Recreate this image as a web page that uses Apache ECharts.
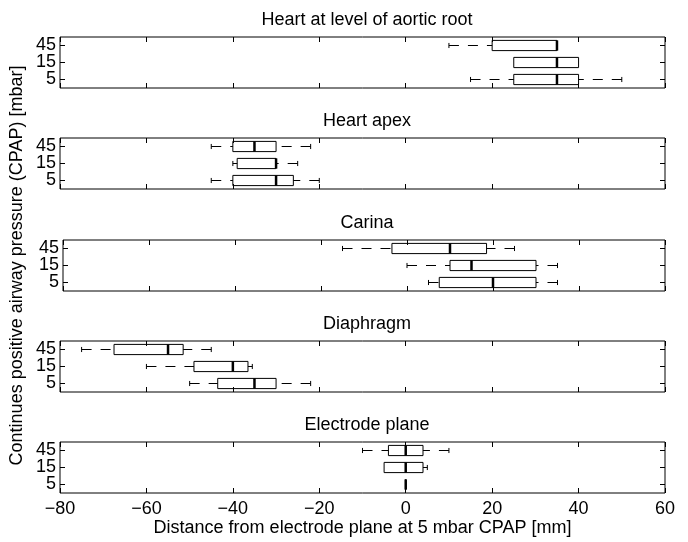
<!DOCTYPE html>
<html>
<head>
<meta charset="utf-8">
<title>CPAP boxplots</title>
<script src="https://cdn.jsdelivr.net/npm/echarts@6/dist/echarts.min.js"></script>
<style>
  html, body { margin: 0; padding: 0; background: #fff; }
  #main { width: 688px; height: 542px; }
</style>
</head>
<body>
<div id="main"></div>
<script>
// CPAP levels (bottom to top on each panel)
var pressures = ['5', '15', '45'];
var panelTitles = ['Heart at level of aortic root', 'Heart apex', 'Carina', 'Diaphragm', 'Electrode plane'];
var xTicks = [-80, -60, -40, -20, 0, 20, 40, 60];

// [min, q1, median, q3, max] for 5, 15, 45 mbar
var aorticRoot = [[15, 25, 35, 40, 50], [25, 25, 35, 40, 40], [10, 20, 35, 35, 35]];
var heartApex  = [[-45, -40, -30, -26, -20], [-40, -39, -30, -30, -25], [-45, -40, -35, -30, -22]];
var carina     = [[5, 7.5, 20, 30, 35], [0, 10, 15, 30, 35], [-15, -3.5, 10, 18.5, 25]];
var diaphragm  = [[-50, -43.5, -35, -30, -22], [-60, -49, -40, -36.5, -35.5], [-75, -67.5, -55, -51.5, -45]];
var electrode  = [[0, 0, 0, 0, 0], [-5, -5, 0, 4, 5], [-10, -4, 0, 4, 10]];

var panels = [aorticRoot, heartApex, carina, diaphragm, electrode];
var gridTops = [37, 138, 240, 341, 442];
var font = '"Liberation Sans", Arial, sans-serif';
var fs = 18;

const myChart = echarts.init(document.getElementById('main'));

function renderBox(params, api) {
    var y = api.value(0);
    var lo = api.coord([api.value(1), y]);
    var q1 = api.coord([api.value(2), y]);
    var md = api.coord([api.value(3), y]);
    var q3 = api.coord([api.value(4), y]);
    var hi = api.coord([api.value(5), y]);
    var h = api.size([0, 1])[1] * 0.6;
    var cy = lo[1];
    var dash = { stroke: '#000', lineWidth: 1, lineDash: [10, 9] };
    var solid = { stroke: '#000', lineWidth: 1 };
    var kids = [];
    if (hi[0] - q3[0] > 1) {
        kids.push({ type: 'line', shape: { x1: hi[0], y1: cy, x2: q3[0], y2: cy }, style: dash });
        kids.push({ type: 'line', shape: { x1: hi[0], y1: cy - h / 4, x2: hi[0], y2: cy + h / 4 }, style: solid });
    }
    if (q1[0] - lo[0] > 1) {
        kids.push({ type: 'line', shape: { x1: lo[0], y1: cy, x2: q1[0], y2: cy }, style: dash });
        kids.push({ type: 'line', shape: { x1: lo[0], y1: cy - h / 4, x2: lo[0], y2: cy + h / 4 }, style: solid });
    }
    kids.push({ type: 'rect', shape: { x: q1[0], y: cy - h / 2, width: q3[0] - q1[0], height: h },
        style: { fill: 'none', stroke: '#000', lineWidth: 1 } });
    kids.push({ type: 'line', shape: { x1: md[0], y1: cy - h / 2, x2: md[0], y2: cy + h / 2 },
        style: { stroke: '#000', lineWidth: 2.5 } });
    return { type: 'group', children: kids };
}

var grids = [], xAxes = [], yAxes = [], titles = [], series = [];
panels.forEach(function (rows, i) {
    var last = i === panels.length - 1;
    grids.push({ left: 60, width: 605, top: gridTops[i], height: 51, show: true,
        borderColor: '#000', borderWidth: 1, backgroundColor: '#fff' });
    titles.push({ text: panelTitles[i], left: 362, top: gridTops[i] - 31, textAlign: 'center',
        textStyle: { fontFamily: font, fontSize: fs, fontWeight: 'normal', color: '#000' } });
    ['bottom', 'top'].forEach(function (pos) {
        xAxes.push({
            type: 'value', gridIndex: i, position: pos, min: -80, max: 60, interval: 20,
            axisLine: { show: false, onZero: false },
            axisTick: { show: true, inside: true, length: 5, lineStyle: { color: '#000' } },
            splitLine: { show: false },
            axisLabel: {
                show: last && pos === 'bottom', margin: 7, color: '#000', fontFamily: font, fontSize: fs,
                formatter: function (v) { return v < 0 ? '\u2212' + (-v) : String(v); }
            },
            name: last && pos === 'bottom' ? 'Distance from electrode plane at 5 mbar CPAP [mm]' : '',
            nameLocation: 'middle', nameGap: 25,
            nameTextStyle: { color: '#000', fontFamily: font, fontSize: fs }
        });
    });
    ['left', 'right'].forEach(function (pos) {
        var left = pos === 'left';
        yAxes.push({
            type: 'category', gridIndex: i, position: pos, data: pressures,
            axisLine: { show: false, onZero: false },
            axisTick: { show: true, inside: true, length: 5, interval: 0, alignWithLabel: true,
                lineStyle: { color: '#000' } },
            axisLabel: { show: true, interval: 0, margin: left ? 4 : 1, fontFamily: font,
                fontSize: left ? fs : 5,
                color: left ? '#000' : 'rgba(0,0,0,0)' },
            name: i === 2 && left ? 'Continues positive airway pressure (CPAP) [mbar]' : '',
            nameLocation: 'middle', nameGap: 37,
            nameTextStyle: { color: '#000', fontFamily: font, fontSize: fs }
        });
    });
    series.push({
        type: 'custom', xAxisIndex: i * 2, yAxisIndex: i * 2,
        renderItem: renderBox,
        encode: { x: [1, 2, 3, 4, 5], y: 0 },
        data: rows.map(function (r, k) { return [k].concat(r); }),
        silent: true, animation: false
    });
});

myChart.setOption({
    animation: false,
    title: titles,
    grid: grids,
    xAxis: xAxes,
    yAxis: yAxes,
    series: series
});
</script>
</body>
</html>
